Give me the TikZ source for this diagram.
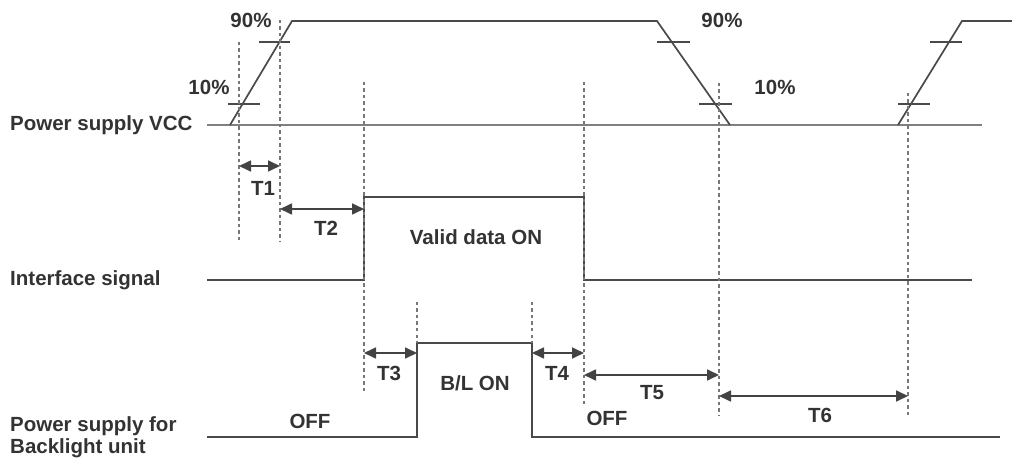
\documentclass[tikz,border=0pt]{standalone}
\usepackage{fontspec}
\setmainfont{Liberation Sans}
\usetikzlibrary{arrows.meta}
\definecolor{sig}{HTML}{4A4A4A}
\definecolor{txt}{HTML}{333333}
\begin{document}
\begin{tikzpicture}[x=1pt,y=-1pt,
  signal/.style={draw=sig,line width=1.7pt},
  baseln/.style={draw=sig!70,line width=1.4pt},
  tick/.style={draw=sig,line width=1.3pt},
  guide/.style={draw=sig!75,line width=1.2pt,dash pattern=on 3.5pt off 3pt},
  dim/.style={draw=sig!90!black,line width=1.7pt,{Triangle[length=12pt,width=11pt]}-{Triangle[length=12pt,width=11pt]}},
  lbl/.style={font=\fontsize{20.5}{23}\selectfont\bfseries,text=txt,inner sep=0pt},
  side/.style={lbl,anchor=west,align=left}]
\useasboundingbox (0,0) rectangle (1012,462);
% signal labels
\node[side] (lvcc) at (10,125) {Power supply VCC};
\node[side] (lif) at (10,280) {Interface signal};
\node[side] (lbl1) at (10,437) {Power supply for\\[-1pt]Backlight unit};
% VCC
\draw[baseln] (207,125) -- (982,125);
\draw[signal] (230,125) -- (292,21) -- (657,21) -- (730,125);
\draw[signal] (898,125) -- (962,21) -- (1012,21);
\draw[tick] (228,104) -- (260,104);
\draw[tick] (259,42) -- (290,42);
\draw[tick] (657,42) -- (690,42);
\draw[tick] (699,104) -- (732,104);
\draw[tick] (930,42) -- (962,42);
\draw[tick] (898,104) -- (930,104);
\node[lbl] (p90a) at (251,20) {90\%};
\node[lbl] (p10a) at (209,87) {10\%};
\node[lbl] (p90b) at (722,20) {90\%};
\node[lbl] (p10b) at (775,87) {10\%};
% interface
\draw[signal] (207,280) -- (364,280) -- (364,197) -- (584,197) -- (584,280) -- (972,280);
\node[lbl] (vd) at (476,237) {Valid data ON};
% backlight
\draw[signal] (207,437) -- (417,437) -- (417,343) -- (532,343) -- (532,437) -- (1000,437);
\node[lbl] (bl) at (475,383) {B/L ON};
\node[lbl] (off1) at (310,421) {OFF};
\node[lbl] (off2) at (607,418) {OFF};
% guides
\coordinate (g1t) at (239,42);  \coordinate (g1b) at (239,242);
\coordinate (g2t) at (280,20);  \coordinate (g2b) at (280,242);
\coordinate (g3t) at (364,82);  \coordinate (g3b) at (364,393);
\coordinate (g4t) at (417,302); \coordinate (g4b) at (417,343);
\coordinate (g5t) at (532,302); \coordinate (g5b) at (532,343);
\coordinate (g6t) at (584,82);  \coordinate (g6b) at (584,407);
\coordinate (g7t) at (719,83);  \coordinate (g7b) at (719,415);
\coordinate (g8t) at (908,93);  \coordinate (g8b) at (908,415);
\foreach \g in {1,...,8} \draw[guide] (g\g t) -- (g\g b);
% dimension arrows
\coordinate (a1l) at (239,166); \coordinate (a1r) at (280,166);
\coordinate (a2l) at (280,209); \coordinate (a2r) at (364,209);
\coordinate (a3l) at (364,353); \coordinate (a3r) at (417,353);
\coordinate (a4l) at (532,353); \coordinate (a4r) at (584,353);
\coordinate (a5l) at (584,375); \coordinate (a5r) at (719,375);
\coordinate (a6l) at (719,396); \coordinate (a6r) at (908,396);
\draw[dim] (a1l) -- (a1r);
\draw[dim] (a2l) -- (a2r);
\draw[dim] (a3l) -- (a3r);
\draw[dim] (a4l) -- (a4r);
\draw[dim] (a5l) -- (a5r);
\draw[dim] (a6l) -- (a6r);
\node[lbl] (t1) at (263,188) {T1};
\node[lbl] (t2) at (326,228) {T2};
\node[lbl] (t3) at (389,373) {T3};
\node[lbl] (t4) at (557,373) {T4};
\node[lbl] (t5) at (652,393) {T5};
\node[lbl] (t6) at (820,415) {T6};
\end{tikzpicture}
\end{document}
